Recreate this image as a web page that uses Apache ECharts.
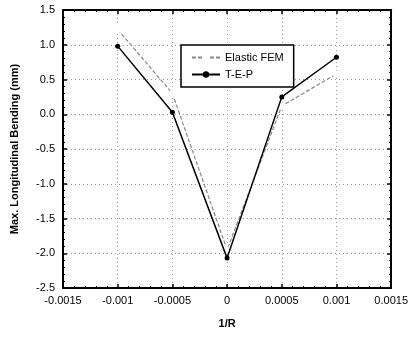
<!DOCTYPE html>
<html><head><meta charset="utf-8">
<script src="https://cdn.jsdelivr.net/npm/echarts@6/dist/echarts.min.js"></script>
<style>html,body{margin:0;padding:0;background:#fff}#c{width:411px;height:337px}</style>
</head><body><div id="c"></div>
<script>
const xValues = [-0.001, -0.0005, 0, 0.0005, 0.001];
const elasticFEM = [1.22, 0.30, -1.95, 0.12, 0.58];
const tep = [0.98, 0.03, -2.07, 0.25, 0.82];
const seriesNames = ['Elastic FEM', 'T-E-P'];
const xTicks = [-0.0015, -0.001, -0.0005, 0, 0.0005, 0.001, 0.0015];
const yTicks = [-2.5, -2.0, -1.5, -1.0, -0.5, 0.0, 0.5, 1.0, 1.5];

const chart = echarts.init(document.getElementById('c'));
const font = 'Liberation Sans, Arial, sans-serif';
const fmtX = v => String(parseFloat(v.toFixed(4)));
const fmtY = v => v.toFixed(1);
const axisBase = {
  type: 'value',
  axisLine: {show: true, onZero: false, lineStyle: {color: '#000', width: 2}},
  axisTick: {show: true, inside: true, length: 4, lineStyle: {color: '#000', width: 1.5}},
  minorTick: {show: true, splitNumber: 5, length: 2, lineStyle: {color: '#000'}},
};
chart.setOption({
  animation: false,
  backgroundColor: '#fff',
  grid: {left: 63, right: 15, top: 10, bottom: 49},
  legend: {
    orient: 'vertical', left: 181, top: 45,
    backgroundColor: '#fff', borderColor: '#000', borderWidth: 1.5, borderRadius: 0,
    padding: [7, 10, 7, 10], itemGap: 6, itemWidth: 28, itemHeight: 8,
    textStyle: {fontFamily: font, fontSize: 11, color: '#000'},
    data: seriesNames
  },
  xAxis: [
    Object.assign({}, axisBase, {
      min: xTicks[0], max: xTicks[xTicks.length - 1], interval: 0.0005,
      name: '1/R', nameLocation: 'middle', nameGap: 30,
      nameTextStyle: {fontFamily: font, fontSize: 11, fontWeight: 'bold', color: '#000'},
      axisLabel: {formatter: fmtX, fontFamily: font, fontSize: 11, color: '#000', margin: 7},
      splitLine: {show: true, lineStyle: {color: '#999', type: [1, 3], width: 1}}
    }),
    Object.assign({}, axisBase, {
      position: 'top', min: xTicks[0], max: xTicks[xTicks.length - 1], interval: 0.0005,
      axisLabel: {show: false}, splitLine: {show: false}
    })
  ],
  yAxis: [
    Object.assign({}, axisBase, {
      min: yTicks[0], max: yTicks[yTicks.length - 1], interval: 0.5,
      name: 'Max. Longitudinal Bending (mm)', nameLocation: 'middle', nameGap: 43,
      nameTextStyle: {fontFamily: font, fontSize: 11, fontWeight: 'bold', color: '#000'},
      axisLabel: {formatter: fmtY, fontFamily: font, fontSize: 11, color: '#000', margin: 8},
      splitLine: {show: true, lineStyle: {color: '#999', type: [1, 3], width: 1}}
    }),
    Object.assign({}, axisBase, {
      position: 'right', min: yTicks[0], max: yTicks[yTicks.length - 1], interval: 0.5,
      axisLabel: {show: false}, splitLine: {show: false}
    })
  ],
  series: [
    {
      name: seriesNames[0], type: 'line',
      data: xValues.map((x, i) => [x, elasticFEM[i]]),
      symbol: 'emptyCircle', symbolSize: 5,
      lineStyle: {color: '#888', width: 1.2, type: [4, 2]},
      itemStyle: {color: '#fff', borderColor: '#777', borderWidth: 1},
      z: 3
    },
    {
      name: seriesNames[1], type: 'line',
      data: xValues.map((x, i) => [x, tep[i]]),
      symbol: 'circle', symbolSize: 5,
      lineStyle: {color: '#000', width: 1.5},
      itemStyle: {color: '#000'},
      z: 4
    }
  ]
});
</script></body></html>
